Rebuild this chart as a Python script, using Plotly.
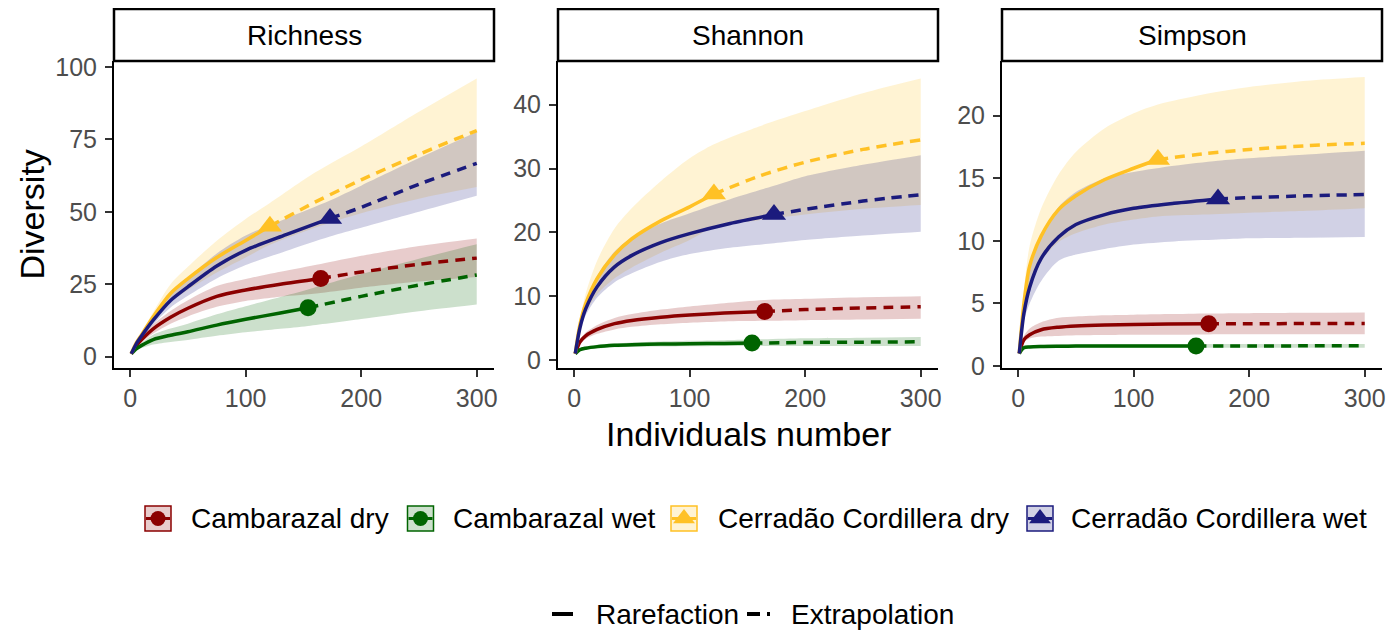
import plotly.graph_objects as go

# page body has an 8px margin: the figure starts 8px in from the window's
# top-left corner and all layout positions below are given in window pixels
OFF = 8
W, H = 1398 - OFF, 632 - OFF

# ---------------- data ----------------
groups = ["Cambarazal dry", "Cambarazal wet", "Cerradão Cordillera dry", "Cerradão Cordillera wet"]
panel_titles = ["Richness", "Shannon", "Simpson"]
x_ticks = [0, 100, 200, 300]
y_ticks_rich = [0, 25, 50, 75, 100]
y_ticks_sha = [0, 10, 20, 30, 40]
y_ticks_sim = [0, 5, 10, 15, 20]

# sample-size grids (observed sample size n splits rarefaction / extrapolation)
x_cd = [1, 5, 10, 20, 35, 50, 75, 100, 130, 165, 200, 250, 300]
x_cw = [1, 5, 10, 20, 35, 50, 75, 100, 130, 154, 200, 250, 300]
x_yd = [1, 5, 10, 20, 35, 50, 75, 100, 121, 160, 200, 250, 300]
x_yw = [1, 5, 10, 20, 35, 50, 75, 100, 135, 173, 200, 250, 300]
n_cd, n_cw, n_yd, n_yw = 165, 154, 121, 173

# Richness
rich_cd = [1, 3.6, 5.9, 9.6, 13.6, 16.7, 20.8, 23.0, 25.0, 27.0, 29.2, 31.9, 34.0]
rich_cd_lo = [1, 3.2, 5.0, 8.0, 11.4, 13.9, 17.2, 19.2, 20.7, 22.0, 23.8, 25.9, 27.5]
rich_cd_hi = [1, 4.0, 6.8, 11.2, 15.8, 19.5, 24.4, 26.8, 29.3, 32.0, 34.8, 38.2, 40.8]
rich_cw = [1, 2.6, 3.9, 5.9, 7.4, 8.6, 10.9, 12.9, 15.1, 16.9, 20.8, 24.7, 28.2]
rich_cw_lo = [1, 2.2, 3.0, 4.2, 5.1, 5.8, 7.2, 8.4, 9.6, 10.6, 13.0, 15.7, 18.0]
rich_cw_hi = [1, 3.0, 4.8, 7.6, 9.7, 11.4, 14.6, 17.4, 20.6, 23.2, 28.5, 33.8, 38.8]
rich_yd = [1, 4.5, 7.6, 13.8, 21.8, 26.9, 34.2, 40.1, 45.0, 53.3, 61.0, 69.8, 78.0]
rich_yd_lo = [1, 4.1, 6.8, 12.2, 18.8, 23.0, 29.0, 34.2, 38.6, 44.5, 49.5, 54.5, 58.5]
rich_yd_hi = [1, 4.9, 8.4, 15.4, 25.0, 31.0, 40.0, 47.5, 53.0, 63.5, 72.5, 84.5, 96.0]
rich_yw = [1, 4.2, 7.2, 12.6, 19.4, 24.1, 31.3, 36.7, 42.1, 47.7, 51.5, 59.5, 66.7]
rich_yw_lo = [1, 3.8, 6.5, 11.2, 17.0, 21.0, 27.0, 31.6, 36.5, 41.5, 44.5, 50.0, 55.5]
rich_yw_hi = [1, 4.6, 7.9, 14.0, 21.8, 27.2, 35.6, 41.8, 47.7, 53.9, 59.0, 68.5, 77.5]

# Shannon
sha_cd = [1, 2.8, 3.8, 4.8, 5.7, 6.2, 6.7, 7.05, 7.35, 7.6, 7.9, 8.15, 8.35]
sha_cd_lo = [1, 2.5, 3.3, 4.1, 4.8, 5.2, 5.6, 5.85, 6.05, 6.15, 6.25, 6.35, 6.45]
sha_cd_hi = [1, 3.1, 4.3, 5.5, 6.6, 7.2, 7.9, 8.4, 8.9, 9.4, 9.6, 9.85, 10.0]
sha_cw = [1, 1.6, 1.85, 2.1, 2.3, 2.4, 2.5, 2.55, 2.6, 2.65, 2.75, 2.8, 2.85]
sha_cw_lo = [1, 1.4, 1.6, 1.8, 2.0, 2.05, 2.1, 2.15, 2.2, 2.2, 2.2, 2.2, 2.2]
sha_cw_hi = [1, 1.8, 2.1, 2.4, 2.6, 2.75, 2.9, 3.0, 3.1, 3.2, 3.4, 3.5, 3.6]
sha_yd = [1, 5.5, 8.8, 12.8, 16.5, 19.0, 21.8, 24.0, 26.0, 28.8, 31.0, 33.0, 34.5]
sha_yd_lo = [1, 4.8, 7.4, 10.3, 12.8, 14.5, 16.8, 18.8, 20.8, 21.9, 22.8, 23.7, 24.3]
sha_yd_hi = [1, 6.2, 10.4, 15.6, 20.6, 23.8, 28.0, 31.6, 33.8, 36.6, 39.0, 41.8, 44.1]
sha_yw = [1, 5.0, 8.0, 11.5, 14.6, 16.4, 18.4, 19.8, 21.4, 22.8, 23.6, 24.9, 25.9]
sha_yw_lo = [1, 4.5, 7.0, 9.8, 12.2, 13.6, 15.4, 16.6, 17.6, 18.3, 18.8, 19.5, 20.1]
sha_yw_hi = [1, 5.5, 9.0, 13.2, 17.0, 19.2, 21.4, 23.0, 25.2, 27.3, 28.8, 30.6, 32.1]

# Simpson
sim_cd = [1, 2.1, 2.5, 2.9, 3.1, 3.2, 3.28, 3.32, 3.35, 3.37, 3.38, 3.39, 3.4]
sim_cd_lo = [1, 1.9, 2.2, 2.35, 2.4, 2.45, 2.48, 2.5, 2.5, 2.52, 2.53, 2.53, 2.53]
sim_cd_hi = [1, 2.4, 3.0, 3.5, 3.85, 3.95, 4.05, 4.1, 4.15, 4.2, 4.22, 4.25, 4.27]
sim_cw = [1, 1.45, 1.52, 1.56, 1.58, 1.59, 1.6, 1.6, 1.6, 1.6, 1.6, 1.61, 1.61]
sim_cw_lo = [1, 1.35, 1.42, 1.45, 1.45, 1.45, 1.45, 1.45, 1.45, 1.45, 1.45, 1.45, 1.45]
sim_cw_hi = [1, 1.55, 1.65, 1.7, 1.72, 1.73, 1.74, 1.75, 1.75, 1.75, 1.76, 1.76, 1.76]
sim_yd = [1, 5.0, 8.0, 10.4, 12.5, 13.6, 14.9, 15.8, 16.5, 16.95, 17.3, 17.6, 17.8]
sim_yd_lo = [1, 4.0, 6.6, 8.4, 9.9, 10.6, 11.3, 11.7, 11.95, 12.1, 12.25, 12.4, 12.6]
sim_yd_hi = [1, 6.0, 9.6, 12.6, 15.3, 17.1, 19.0, 20.2, 20.9, 21.7, 22.3, 22.8, 23.1]
sim_yw = [1, 4.2, 6.3, 8.6, 10.3, 11.3, 12.1, 12.6, 13.0, 13.35, 13.45, 13.6, 13.7]
sim_yw_lo = [1, 3.6, 5.0, 6.8, 8.4, 8.9, 9.35, 9.7, 9.95, 10.1, 10.2, 10.25, 10.3]
sim_yw_hi = [1, 4.8, 7.6, 10.4, 12.7, 13.9, 15.0, 15.5, 16.0, 16.4, 16.6, 16.9, 17.2]

# ---------------- style ----------------
colors = ["#8B0000", "#006400", "#FFC125", "#1B1B7D"]
fills = ["rgba(139,0,0,0.2)", "rgba(0,100,0,0.2)", "rgba(255,193,37,0.2)", "rgba(27,27,125,0.2)"]
symbols = ["circle", "circle", "triangle-up", "triangle-up"]
msizes = [17, 17, 21, 21]
LW = 3.5
FONT = "Liberation Sans, Arial, sans-serif"

xs = [x_cd, x_cw, x_yd, x_yw]
ns = [n_cd, n_cw, n_yd, n_yw]
panels = [
    ([rich_cd, rich_cw, rich_yd, rich_yw], [rich_cd_lo, rich_cw_lo, rich_yd_lo, rich_yw_lo],
     [rich_cd_hi, rich_cw_hi, rich_yd_hi, rich_yw_hi], y_ticks_rich, [-3.9, 102.0]),
    ([sha_cd, sha_cw, sha_yd, sha_yw], [sha_cd_lo, sha_cw_lo, sha_yd_lo, sha_yw_lo],
     [sha_cd_hi, sha_cw_hi, sha_yd_hi, sha_yw_hi], y_ticks_sha, [-1.25, 46.85]),
    ([sim_cd, sim_cw, sim_yd, sim_yw], [sim_cd_lo, sim_cw_lo, sim_yd_lo, sim_yw_lo],
     [sim_cd_hi, sim_cw_hi, sim_yd_hi, sim_yw_hi], y_ticks_sim, [-0.16, 24.37]),
]

# window-pixel layout
panel_px = [(114, 494), (558, 938), (1002, 1382)]
top_px, bot_px = 61, 368
strip_top = 9
x_range = [-13.95, 314.95]


def fx(px):
    return (px - OFF) / W


def fy(py):
    return 1 - (py - OFF) / H


fig = go.Figure()
layout_axes = {}

for p, (ys, los, his, yt, yr) in enumerate(panels):
    sfx = "" if p == 0 else str(p + 1)
    xa, ya = "x" + sfx, "y" + sfx
    # bands
    for g in range(4):
        fig.add_trace(go.Scatter(x=xs[g], y=los[g], mode="lines", line=dict(width=0, shape="spline", smoothing=0.8),
                                 xaxis=xa, yaxis=ya, hoverinfo="skip", showlegend=False))
        fig.add_trace(go.Scatter(x=xs[g], y=his[g], mode="lines", line=dict(width=0, shape="spline", smoothing=0.8),
                                 fill="tonexty", fillcolor=fills[g],
                                 xaxis=xa, yaxis=ya, hoverinfo="skip", showlegend=False))
    # lines
    for g in range(4):
        k = xs[g].index(ns[g])
        fig.add_trace(go.Scatter(x=xs[g][:k + 1], y=ys[g][:k + 1], mode="lines",
                                 line=dict(color=colors[g], width=LW, shape="spline", smoothing=0.8),
                                 xaxis=xa, yaxis=ya, showlegend=False))
        fig.add_trace(go.Scatter(x=xs[g][k:], y=ys[g][k:], mode="lines",
                                 line=dict(color=colors[g], width=LW, dash="10px,7px", shape="spline", smoothing=0.8),
                                 xaxis=xa, yaxis=ya, showlegend=False))
    # observed points
    for g in range(4):
        k = xs[g].index(ns[g])
        fig.add_trace(go.Scatter(x=[xs[g][k]], y=[ys[g][k]], mode="markers",
                                 marker=dict(color=colors[g], symbol=symbols[g], size=msizes[g], line=dict(width=0)),
                                 xaxis=xa, yaxis=ya, showlegend=False))

    x0, x1 = panel_px[p]
    layout_axes["xaxis" + sfx] = dict(
        domain=[fx(x0), fx(x1)], range=x_range, anchor=ya, tickvals=x_ticks, automargin=False,
        showline=True, linecolor="black", linewidth=2, ticks="outside", ticklen=7, tickwidth=1.5,
        tickcolor="#333333", tickfont=dict(size=25, color="#4D4D4D", family=FONT),
        showgrid=False, zeroline=False, fixedrange=True)
    layout_axes["yaxis" + sfx] = dict(
        domain=[fy(bot_px), fy(top_px)], range=yr, anchor=xa, tickvals=yt, automargin=False,
        showline=True, linecolor="black", linewidth=2, ticks="outside", ticklen=7, tickwidth=1.5,
        tickcolor="#333333", tickfont=dict(size=25, color="#4D4D4D", family=FONT),
        showgrid=False, zeroline=False, fixedrange=True, ticklabelstandoff=3)

# overlay axis in window pixels for strips & legend
layout_axes["xaxis4"] = dict(domain=[0, 1], range=[OFF, OFF + W], visible=False, fixedrange=True, anchor="y4",
                             automargin=False)
layout_axes["yaxis4"] = dict(domain=[0, 1], range=[OFF + H, OFF], visible=False, fixedrange=True, anchor="x4",
                             automargin=False)

shapes = []
annotations = []
for p in range(3):
    x0, x1 = panel_px[p]
    shapes.append(dict(type="rect", xref="x4", yref="y4", x0=x0, x1=x1, y0=strip_top, y1=top_px,
                       fillcolor="white", line=dict(color="black", width=2.5), layer="above"))
    annotations.append(dict(x=(x0 + x1) / 2, y=35.5, xref="x4", yref="y4", text=panel_titles[p],
                            showarrow=False, font=dict(size=28, color="black", family=FONT),
                            xanchor="center", yanchor="middle"))

# axis titles
annotations.append(dict(x=31, y=(top_px + bot_px) / 2, xref="x4", yref="y4", text="Diversity", textangle=-90,
                        showarrow=False, font=dict(size=34, color="black", family=FONT),
                        xanchor="center", yanchor="middle"))
annotations.append(dict(x=748, y=434, xref="x4", yref="y4", text="Individuals number",
                        showarrow=False, font=dict(size=34, color="black", family=FONT),
                        xanchor="center", yanchor="middle"))

# legend 1 (groups)
leg_cx = [158, 420.5, 684, 1040]
leg_tx = [189, 451, 716, 1069]
leg_y = 518.5
for g in range(4):
    cx = leg_cx[g]
    shapes.append(dict(type="rect", xref="x4", yref="y4", x0=cx - 13, x1=cx + 13, y0=leg_y - 12.5, y1=leg_y + 12.5,
                       fillcolor=fills[g], line=dict(color=colors[g], width=1.5), layer="below"))
    fig.add_trace(go.Scatter(x=[cx - 12, cx + 12], y=[leg_y, leg_y], mode="lines",
                             line=dict(color=colors[g], width=3), xaxis="x4", yaxis="y4",
                             hoverinfo="skip", showlegend=False))
    fig.add_trace(go.Scatter(x=[cx], y=[leg_y], mode="markers",
                             marker=dict(color=colors[g], symbol=symbols[g], size=msizes[g] - 2, line=dict(width=0)),
                             xaxis="x4", yaxis="y4", hoverinfo="skip", showlegend=False))
    annotations.append(dict(x=leg_tx[g], y=leg_y, xref="x4", yref="y4", text=groups[g], showarrow=False,
                            font=dict(size=28, color="black", family=FONT), xanchor="left", yanchor="middle"))

# legend 2 (method)
meth_y = 614
fig.add_trace(go.Scatter(x=[552, 573], y=[meth_y, meth_y], mode="lines", line=dict(color="black", width=4),
                         xaxis="x4", yaxis="y4", hoverinfo="skip", showlegend=False))
fig.add_trace(go.Scatter(x=[747, 771], y=[meth_y, meth_y], mode="lines",
                         line=dict(color="black", width=4, dash="13px,7px,3px,10px"),
                         xaxis="x4", yaxis="y4", hoverinfo="skip", showlegend=False))
annotations.append(dict(x=594, y=meth_y, xref="x4", yref="y4", text="Rarefaction", showarrow=False,
                        font=dict(size=28, color="black", family=FONT), xanchor="left", yanchor="middle"))
annotations.append(dict(x=789, y=meth_y, xref="x4", yref="y4", text="Extrapolation", showarrow=False,
                        font=dict(size=28, color="black", family=FONT), xanchor="left", yanchor="middle"))

fig.update_layout(
    width=W, height=H, margin=dict(l=0, r=0, t=0, b=0, pad=0, autoexpand=False),
    paper_bgcolor="white", plot_bgcolor="rgba(0,0,0,0)",
    font=dict(family=FONT), showlegend=False, hovermode=False,
    shapes=shapes, annotations=annotations, **layout_axes)

fig.write_html("out.html")
